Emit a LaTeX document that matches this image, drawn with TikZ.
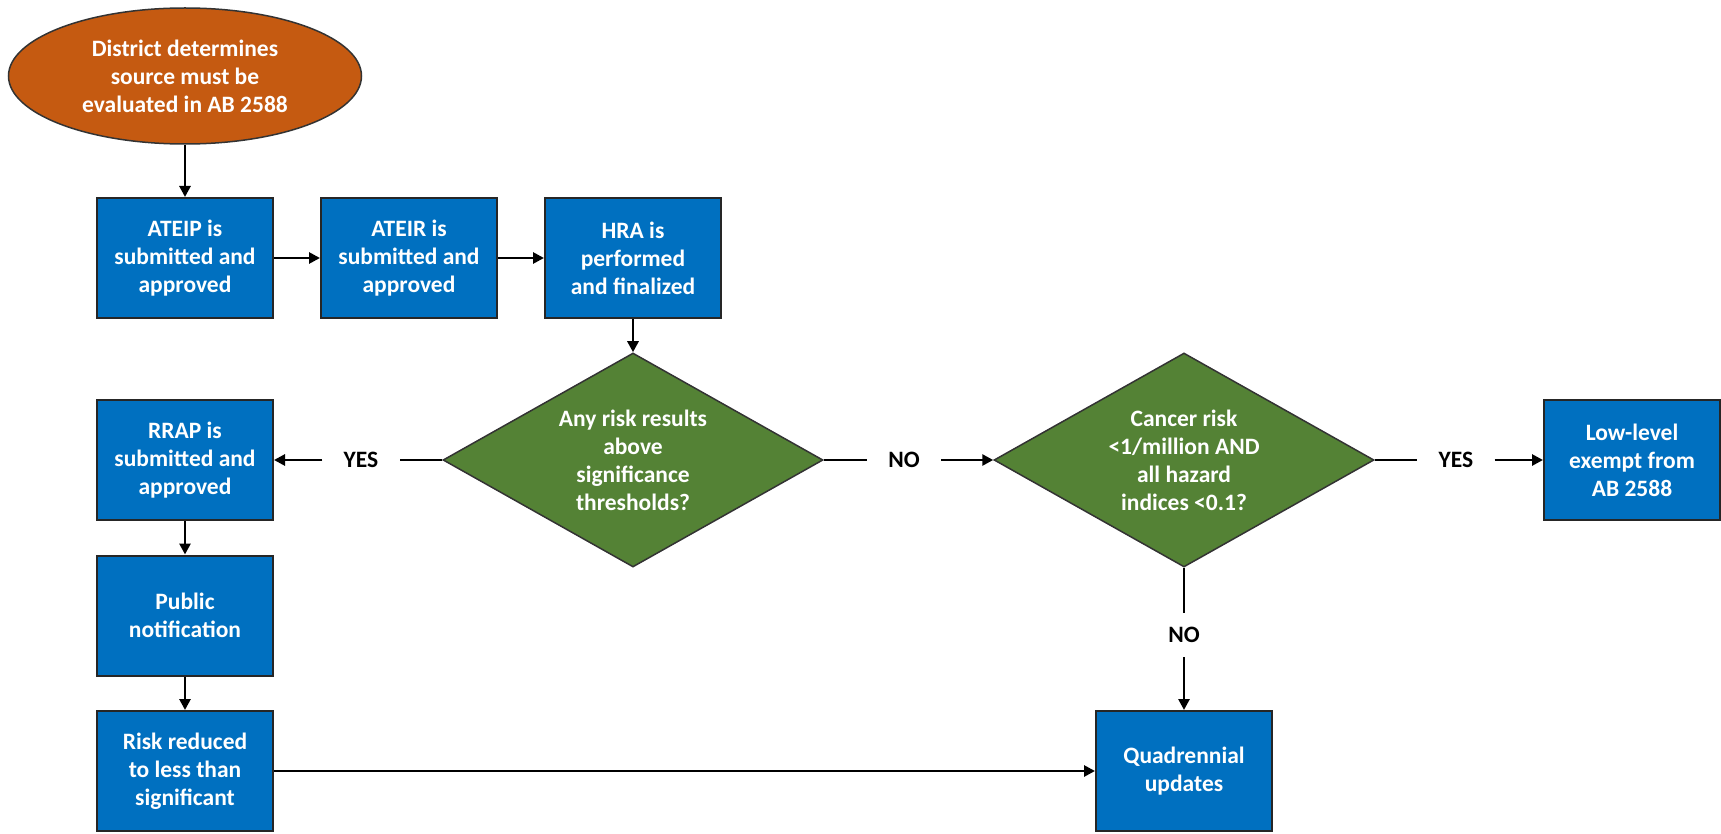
\documentclass[tikz,border=0pt]{standalone}
\usepackage{fontspec}
\setmainfont{Carlito}
\usepackage{tikz}
\usetikzlibrary{shapes.geometric,arrows.meta}
\definecolor{boxblue}{RGB}{0,112,192}
\definecolor{decgreen}{RGB}{84,130,53}
\definecolor{termorange}{RGB}{197,90,17}

\begin{document}
\begin{tikzpicture}[x=1pt, y=-1pt, node distance=224pt, line width=2.7pt,
    >={Triangle[length=11pt,width=11pt]},
    font=\fontsize{23.5}{28}\selectfont\bfseries,
    terminal/.style={ellipse, draw=black!80, line width=1.5pt, fill=termorange, text=white, align=center, minimum width=353pt, minimum height=136pt, inner sep=0pt},
    process/.style={rectangle, draw=black!85, line width=2pt, fill=boxblue, text=white, align=center, minimum width=176pt, minimum height=120pt, inner sep=0pt},
    decision/.style={diamond, aspect=1.78, draw=black!80, line width=1.5pt, fill=decgreen, text=white, align=center, minimum width=380pt, minimum height=214pt, inner sep=0pt},
    answer/.style={inner xsep=20pt, inner ysep=13pt}]
    \useasboundingbox (0,0) rectangle (1721,834);
    \node[terminal] (dist) at (185,76) {District determines\\source must be\\evaluated in AB 2588};
    \node[process] (ateip) at (185,258) {ATEIP is\\submitted and\\approved};
    \node[process] (ateir) [right of=ateip] {ATEIR is\\submitted and\\approved};
    \node[process] (hra) [right of=ateir] {HRA is\\performed\\and finalized};
    \node[decision] (sig) at (633,460) {Any risk results\\above\\significance\\thresholds?};
    \node[decision] (low) at (1184,460) {Cancer risk\\<1/million AND\\all hazard\\indices <0.1?};
    \node[process] (exempt) at (1632,460) {Low-level\\exempt from\\AB 2588};
    \node[process] (rrap) at (185,460) {RRAP is\\submitted and\\approved};
    \node[process] (public) [below of=rrap, node distance=155.5pt] {Public\\notification};
    \node[process] (reduced) [below of=public, node distance=155.5pt] {Risk reduced\\to less than\\significant};
    \node[process] (quad) at (1184,771) {Quadrennial\\updates};
    \node[answer] (yes1) at (361,460) {YES};
    \node[answer] (no1) at (904,460) {NO};
    \node[answer] (yes2) at (1456,460) {YES};
    \node[answer] (no2) at (1184,635) {NO};
    \path[->]
    (dist) edge (ateip)
    (ateip) edge (ateir)
    (ateir) edge (hra)
    (hra) edge (sig)
    (yes1) edge (rrap)
    (no1) edge (low)
    (yes2) edge (exempt)
    (no2) edge (quad)
    (rrap) edge (public)
    (public) edge (reduced)
    (reduced) edge (quad);
    \path
    (sig) edge (yes1)
          edge (no1)
    (low) edge (yes2)
          edge (no2);
\end{tikzpicture}
\end{document}
